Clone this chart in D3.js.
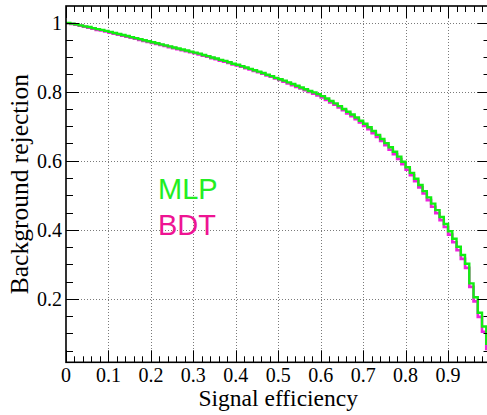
<!DOCTYPE html>
<html><head><meta charset="utf-8">
<script src="https://cdn.jsdelivr.net/npm/d3@7"></script>
<style>html,body{margin:0;padding:0;background:#fff;overflow:hidden}svg{display:block}</style>
</head><body>
<svg id="c" width="487" height="415"></svg>
<script>
// Signal efficiency bins: 100 bins of width 0.01 from 0 to 1
const binEdgesStart = 0, binWidth = 0.01;
const mlpRejection = [
 0.999,0.997,0.995,0.992,0.989,0.987,0.984,0.981,0.979,0.976,
 0.973,0.970,0.967,0.964,0.961,0.958,0.955,0.952,0.949,0.946,
 0.943,0.940,0.937,0.934,0.931,0.928,0.925,0.922,0.919,0.916,
 0.913,0.910,0.906,0.903,0.899,0.896,0.892,0.889,0.885,0.881,
 0.878,0.874,0.870,0.866,0.862,0.858,0.854,0.849,0.845,0.840,
 0.836,0.832,0.827,0.822,0.817,0.812,0.807,0.802,0.798,0.793,
 0.787,0.780,0.773,0.766,0.758,0.750,0.742,0.734,0.725,0.716,
 0.707,0.697,0.686,0.675,0.663,0.651,0.639,0.626,0.612,0.597,
 0.581,0.565,0.548,0.530,0.512,0.494,0.476,0.457,0.437,0.417,
 0.396,0.374,0.351,0.327,0.302,0.245,0.205,0.160,0.120,0.070,
];
const bdtRejection = [
 0.998,0.996,0.994,0.991,0.988,0.985,0.982,0.979,0.977,0.974,
 0.971,0.968,0.965,0.962,0.959,0.956,0.953,0.950,0.947,0.944,
 0.941,0.938,0.935,0.932,0.929,0.926,0.923,0.920,0.917,0.914,
 0.911,0.908,0.904,0.901,0.897,0.894,0.890,0.887,0.883,0.879,
 0.876,0.872,0.868,0.864,0.860,0.856,0.852,0.847,0.843,0.838,
 0.834,0.829,0.824,0.819,0.814,0.809,0.804,0.799,0.794,0.789,
 0.783,0.776,0.769,0.762,0.754,0.746,0.737,0.729,0.720,0.711,
 0.701,0.691,0.680,0.669,0.657,0.645,0.632,0.619,0.605,0.590,
 0.574,0.558,0.541,0.523,0.505,0.486,0.467,0.448,0.428,0.408,
 0.386,0.364,0.341,0.316,0.290,0.235,0.193,0.148,0.105,0.055,
];
const xTickLabels = ["0","0.1","0.2","0.3","0.4","0.5","0.6","0.7","0.8","0.9"];
const xTickValues = [0,0.1,0.2,0.3,0.4,0.5,0.6,0.7,0.8,0.9];
const yTickValues = [0.2,0.4,0.6,0.8,1.0];
const yTickLabels = ["0.2","0.4","0.6","0.8","1"];
const seriesNames = ["MLP","BDT"];
const seriesColors = {MLP:"#11ee11", BDT:"#ee22dd"};
const legendColors = {MLP:"#22ee22", BDT:"#ee1493"};

const svg = d3.select("#c");
const L=66, R=490.5, T=6, B=362.3;
const x = d3.scaleLinear().domain([0,1]).range([L,R]);
const y = d3.scaleLinear().domain([0.0165,1.048]).range([B,T]);

svg.append("defs").append("clipPath").attr("id","clip")
  .append("rect").attr("x",L).attr("y",T).attr("width",R-L).attr("height",B-T);

// grid
const grid = svg.append("g").attr("stroke","#7a7a7a").attr("stroke-width",1).attr("stroke-dasharray","1,2");
xTickValues.filter(v=>v>0).forEach(v=>{
  grid.append("line").attr("x1",Math.round(x(v))+0.5).attr("x2",Math.round(x(v))+0.5).attr("y1",T).attr("y2",B);
});
yTickValues.forEach(v=>{
  grid.append("line").attr("x1",L).attr("x2",R).attr("y1",Math.round(y(v))+0.5).attr("y2",Math.round(y(v))+0.5);
});

// curves
function stepData(vals){
  const pts = vals.map((v,i)=>[binEdgesStart+i*binWidth, v]);
  pts.push([binEdgesStart+vals.length*binWidth, vals[vals.length-1]]);
  return pts;
}
const line = d3.line().x(d=>x(d[0])).y(d=>y(d[1])).curve(d3.curveStepAfter);
const curves = svg.append("g").attr("clip-path","url(#clip)");
curves.append("path").attr("d",line(stepData(bdtRejection))).attr("fill","none")
  .attr("stroke",seriesColors.BDT).attr("stroke-width",2.6);
curves.append("path").attr("d",line(stepData(mlpRejection))).attr("fill","none")
  .attr("stroke",seriesColors.MLP).attr("stroke-width",2.4);

// axes ticks
const ax = svg.append("g").attr("stroke","#000").attr("stroke-width",1);
const xMinor = d3.range(0,1.0001,0.02);
xMinor.forEach(v=>{
  const isMajor = Math.abs(v*10-Math.round(v*10))<1e-6;
  const len = isMajor?12:6;
  const px = Math.round(x(v))+0.5;
  ax.append("line").attr("x1",px).attr("x2",px).attr("y1",B).attr("y2",B-len);
  ax.append("line").attr("x1",px).attr("x2",px).attr("y1",T).attr("y2",T+len);
});
const yMinor = d3.range(0.05,1.0001,0.05);
yMinor.forEach(v=>{
  const isMajor = Math.abs(v*5-Math.round(v*5))<1e-6;
  const len = isMajor?13:7;
  const py = Math.round(y(v))+0.5;
  ax.append("line").attr("x1",L).attr("x2",L+len).attr("y1",py).attr("y2",py);
  ax.append("line").attr("x1",R).attr("x2",R-len).attr("y1",py).attr("y2",py);
});
// frame
svg.append("rect").attr("x",L).attr("y",T).attr("width",R-L).attr("height",B-T)
  .attr("fill","none").attr("stroke","#000").attr("stroke-width",1.6);

// tick labels
const tl = svg.append("g").attr("font-family","'Liberation Serif', 'Times New Roman', serif").attr("font-size",20).attr("fill","#000");
xTickValues.forEach((v,i)=>{
  tl.append("text").attr("x",x(v)).attr("y",382).attr("text-anchor","middle").text(xTickLabels[i]);
});
yTickValues.forEach((v,i)=>{
  tl.append("text").attr("x",62).attr("y",y(v)).attr("dy","0.35em").attr("text-anchor","end").text(yTickLabels[i]);
});

// axis titles
svg.append("text").attr("x",(L+R)/2).attr("y",406).attr("text-anchor","middle")
  .attr("font-family","'Liberation Serif', serif").attr("font-size",23.5).text("Signal efficiency");
svg.append("text").attr("transform",`translate(28,${(T+B)/2}) rotate(-90)`).attr("text-anchor","middle")
  .attr("font-family","'Liberation Serif', serif").attr("font-size",25.5).text("Background rejection");

// legend
const lg = svg.append("g").attr("font-family","'Liberation Sans', Arial, sans-serif").attr("font-size",29);
lg.append("text").attr("x",158).attr("y",199).attr("fill",legendColors.MLP).text(seriesNames[0]);
lg.append("text").attr("x",158).attr("y",235).attr("fill",legendColors.BDT).text(seriesNames[1]);
</script>
</body></html>
